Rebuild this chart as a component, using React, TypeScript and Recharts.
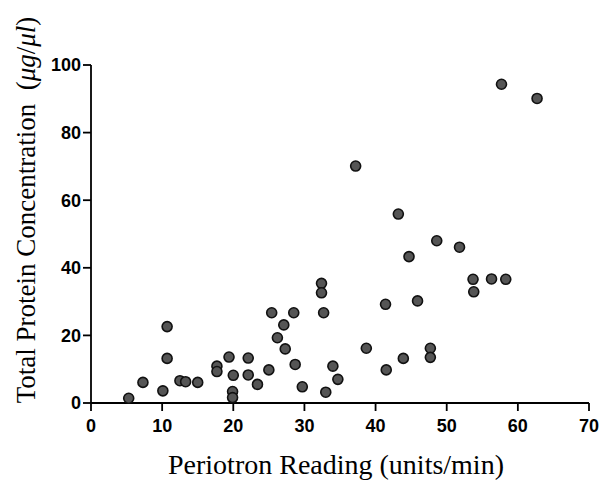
import React from 'react';
import { ScatterChart, Scatter, XAxis, YAxis } from 'recharts';

// Periotron reading (units/min)
const periotron = [
  5.3, 7.3, 10.1, 10.7, 10.7, 12.5, 13.3, 15.0, 17.7, 17.7,
  19.4, 20.0, 19.9, 19.9, 22.1, 22.1, 23.4, 25.0, 25.4, 26.2,
  27.1, 27.3, 28.5, 28.7, 29.7, 32.4, 32.4, 32.7, 33.0, 34.0,
  34.7, 37.2, 38.7, 41.4, 41.5, 43.2, 43.9, 44.7, 45.9, 47.7,
  47.7, 48.6, 51.8, 53.7, 53.8, 56.3, 57.7, 58.3, 62.7,
];

// Total protein concentration (ug/ul)
const protein = [
  1.4, 6.1, 3.6, 13.2, 22.6, 6.6, 6.3, 6.1, 10.9, 9.3,
  13.6, 8.2, 3.4, 1.6, 13.3, 8.3, 5.5, 9.8, 26.7, 19.3,
  23.1, 16.0, 26.7, 11.4, 4.8, 35.4, 32.6, 26.7, 3.2, 10.9,
  7.0, 70.1, 16.2, 29.2, 9.8, 55.9, 13.2, 43.3, 30.2, 16.2,
  13.5, 48.0, 46.1, 36.6, 32.9, 36.7, 94.3, 36.6, 90.1,
];

const xTicks = [0, 10, 20, 30, 40, 50, 60, 70];
const yTicks = [0, 20, 40, 60, 80, 100];

const data = periotron.map((x, i) => ({ x, y: protein[i] }));

const tickStyle = {
  fontFamily: '"Liberation Sans", Arial, Helvetica, sans-serif',
  fontWeight: 700,
  fontSize: 18,
  fill: '#000',
};

const serif = '"Liberation Serif", "Times New Roman", serif';

const Dot = (props: any) => (
  <circle cx={props.cx} cy={props.cy} r={5} fill="#555" stroke="#111" strokeWidth={1.6} />
);

const YTitle = () => (
  <text
    transform="translate(35, 210) rotate(-90)"
    textAnchor="middle"
    fontFamily={serif}
    fontSize={27}
    fill="#000"
    style={{ whiteSpace: 'pre' }}
  >
    {'Total Protein Concentration  ('}
    <tspan fontStyle="italic">μg</tspan>/<tspan fontStyle="italic">μl</tspan>)
  </text>
);

const XTitle = () => (
  <text x={336} y={474} textAnchor="middle" fontFamily={serif} fontSize={28} fill="#000">
    Periotron Reading (units/min)
  </text>
);

export default function App() {
  return (
    <div style={{ position: 'absolute', left: 0, top: 0, background: '#fff' }}>
      <ScatterChart
        width={601}
        height={490}
        margin={{ top: 65, right: 12, bottom: 37, left: 31 }}
      >
        <XAxis
          type="number"
          dataKey="x"
          domain={[0, 70]}
          ticks={xTicks}
          interval={0}
          height={50}
          axisLine={{ stroke: '#000', strokeWidth: 1.8 }}
          tickLine={{ stroke: '#000', strokeWidth: 1.8 }}
          tickSize={8}
          tick={tickStyle}
          tickMargin={8}
          label={<XTitle />}
        />
        <YAxis
          type="number"
          dataKey="y"
          domain={[0, 100]}
          ticks={yTicks}
          interval={0}
          width={60}
          axisLine={{ stroke: '#000', strokeWidth: 1.8 }}
          tickLine={{ stroke: '#000', strokeWidth: 1.8 }}
          tickSize={8}
          tick={tickStyle}
          tickMargin={2}
          label={<YTitle />}
        />
        <Scatter data={data} shape={<Dot />} isAnimationActive={false} />
      </ScatterChart>
    </div>
  );
}
